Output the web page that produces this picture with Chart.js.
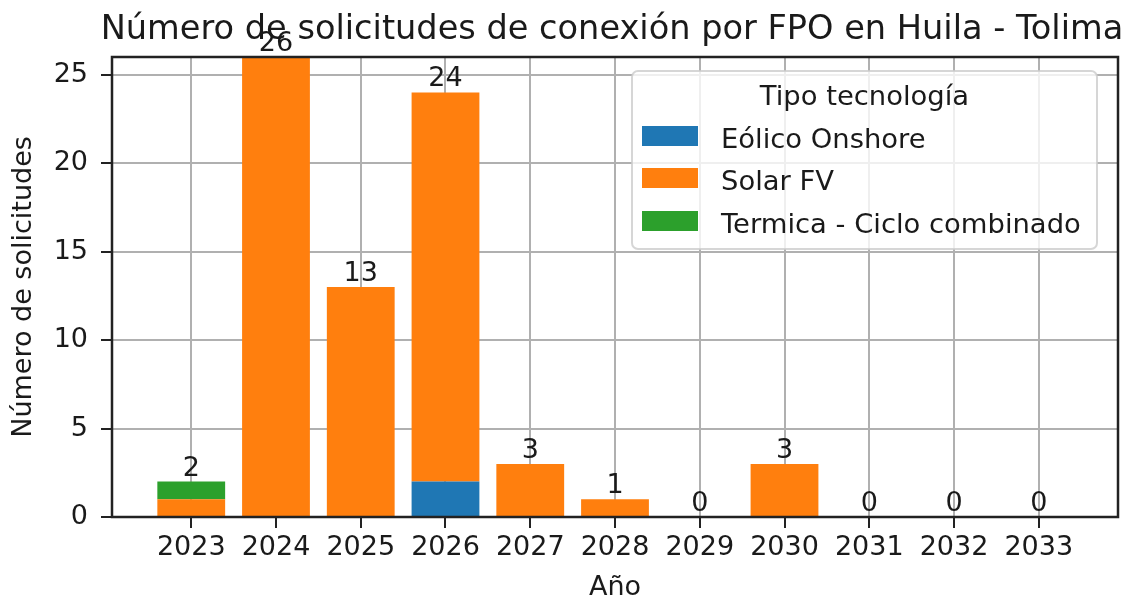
<!DOCTYPE html>
<html>
<head>
<meta charset="utf-8">
<script src="https://cdn.jsdelivr.net/npm/chart.js@4/dist/chart.umd.min.js"></script>
<style>
html,body{margin:0;padding:0;background:#fff;}
#wrap{width:1132px;height:601px;}
</style>
</head>
<body>
<div id="wrap"><canvas id="c" width="1132" height="601"></canvas></div>
<script>
const years = ['2023','2024','2025','2026','2027','2028','2029','2030','2031','2032','2033'];
const eolicoOnshore = [0,0,0,2,0,0,0,0,0,0,0];
const solarFV = [1,26,13,22,3,1,0,3,0,0,0];
const termicaCiclo = [1,0,0,0,0,0,0,0,0,0,0];
const yTicks = [0,5,10,15,20,25];
const seriesNames = ['Eólico Onshore','Solar FV','Termica - Ciclo combinado'];
const seriesColors = ['#1f77b4','#ff7f0e','#2ca02c'];
const titleText = 'Número de solicitudes de conexión por FPO en Huila - Tolima';
const legendTitle = 'Tipo tecnología';
const xLabel = 'Año';
const yLabel = 'Número de solicitudes';

const FONT = 'DejaVu Sans';
const TXT = '#1a1a1a';
const totals = years.map((_, i) => eolicoOnshore[i] + solarFV[i] + termicaCiclo[i]);

const toPts = arr => arr.map((v, i) => ({x: i, y: v}));

const framePlugin = {
  id: 'frame',
  afterDraw(chart) {
    const ctx = chart.ctx, a = chart.chartArea;
    const xs = chart.scales.x, ys = chart.scales.y;
    ctx.save();
    // title (centred over the axes, not squeezed)
    ctx.font = '33.6px "' + FONT + '"';
    ctx.fillStyle = TXT;
    ctx.textAlign = 'center';
    ctx.textBaseline = 'alphabetic';
    ctx.fillText(titleText, (a.left + a.right) / 2 - 3, 38.5);
    // spines
    ctx.strokeStyle = '#222';
    ctx.lineWidth = 2.5;
    ctx.strokeRect(a.left, a.top, a.right - a.left, a.bottom - a.top);
    // legend
    const lx = 632, ly = 71, lw = 465, lh = 178;
    ctx.beginPath();
    if (ctx.roundRect) ctx.roundRect(lx, ly, lw, lh, 6); else ctx.rect(lx, ly, lw, lh);
    ctx.fillStyle = 'rgba(255,255,255,0.8)';
    ctx.fill();
    ctx.strokeStyle = 'rgba(204,204,204,0.8)';
    ctx.lineWidth = 2;
    ctx.stroke();
    ctx.font = '27.4px "' + FONT + '"';
    ctx.fillStyle = TXT;
    ctx.textAlign = 'center';
    ctx.fillText(legendTitle, lx + lw / 2, 105);
    ctx.textAlign = 'left';
    const sy = [126, 168, 211];
    const by = [148, 190, 232.5];
    for (let k = 0; k < seriesNames.length; k++) {
      ctx.fillStyle = seriesColors[k];
      ctx.fillRect(642, sy[k], 56, 20);
      ctx.fillStyle = TXT;
      ctx.fillText(seriesNames[k], 721, by[k]);
    }
    // total labels
    ctx.font = '27px "' + FONT + '"';
    ctx.textAlign = 'center';
    for (let i = 0; i < years.length; i++) {
      const px = xs.getPixelForValue(i);
      const py = ys.getPixelForValue(totals[i]);
      ctx.fillText(String(totals[i]), px, py - 6);
    }
    ctx.restore();
  }
};

const datasets = [eolicoOnshore, solarFV, termicaCiclo].map((arr, k) => ({
  label: seriesNames[k],
  data: toPts(arr),
  backgroundColor: seriesColors[k],
  borderWidth: 0,
  categoryPercentage: 0.8,
  barPercentage: 1.0
}));

new Chart(document.getElementById('c'), {
  type: 'bar',
  data: { datasets },
  options: {
    responsive: false,
    animation: false,
    layout: { padding: { left: 0, right: 14, top: 57, bottom: 0 } },
    plugins: {
      legend: { display: false },
      tooltip: { enabled: false },
      title: { display: false, text: titleText }
    },
    scales: {
      x: {
        type: 'linear',
        stacked: true,
        offset: false,
        min: -0.935,
        max: 10.935,
        z: 1,
        afterBuildTicks(s) { s.ticks = years.map((_, i) => ({ value: i })); },
        afterFit(s) { s.height = 84; },
        ticks: {
          autoSkip: false,
          maxRotation: 0,
          color: TXT,
          padding: 4,
          font: { family: FONT, size: 27 },
          callback: v => years[v]
        },
        grid: { offset: false, color: '#b0b0b0', lineWidth: 2, tickColor: '#222', tickWidth: 2, tickLength: 11 },
        border: { display: false },
        title: { display: true, text: xLabel, color: TXT, font: { family: FONT, size: 27, lineHeight: 1.0 }, padding: { top: 0, bottom: 0 } }
      },
      y: {
        stacked: true,
        min: 0,
        max: 26,
        z: 1,
        afterBuildTicks(s) { s.ticks = yTicks.map(v => ({ value: v })); },
        afterFit(s) { s.width = 112; },
        ticks: {
          color: TXT,
          padding: 13,
          font: { family: FONT, size: 27 },
          callback: v => String(v)
        },
        grid: { color: '#b0b0b0', lineWidth: 2, tickColor: '#222', tickWidth: 2, tickLength: 11 },
        border: { display: false },
        title: { display: true, text: yLabel, color: TXT, font: { family: FONT, size: 27 }, padding: { top: 8, bottom: 0 } }
      }
    }
  },
  plugins: [framePlugin]
});
</script>
</body>
</html>
